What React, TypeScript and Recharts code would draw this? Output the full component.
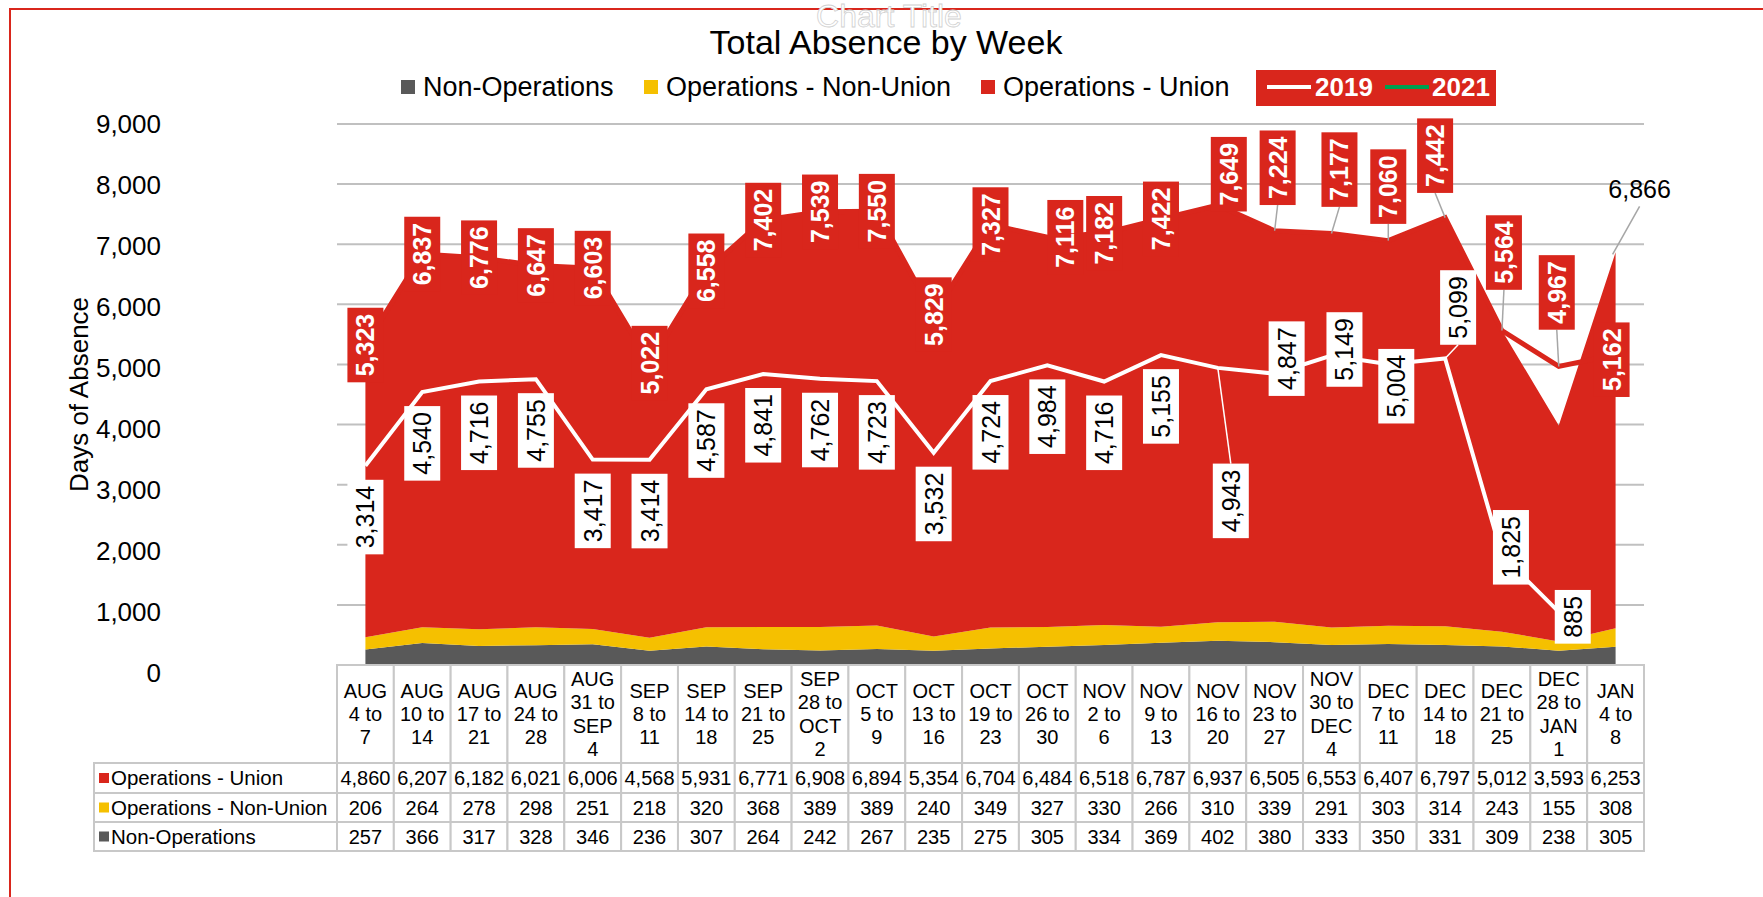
import { Area, CartesianGrid, ComposedChart, LabelList, Line, XAxis, YAxis } from "recharts";

const weeks = [
  "AUG\n4 to\n7",
  "AUG\n10 to\n14",
  "AUG\n17 to\n21",
  "AUG\n24 to\n28",
  "AUG\n31 to\nSEP\n4",
  "SEP\n8 to\n11",
  "SEP\n14 to\n18",
  "SEP\n21 to\n25",
  "SEP\n28 to\nOCT\n2",
  "OCT\n5 to\n9",
  "OCT\n13 to\n16",
  "OCT\n19 to\n23",
  "OCT\n26 to\n30",
  "NOV\n2 to\n6",
  "NOV\n9 to\n13",
  "NOV\n16 to\n20",
  "NOV\n23 to\n27",
  "NOV\n30 to\nDEC\n4",
  "DEC\n7 to\n11",
  "DEC\n14 to\n18",
  "DEC\n21 to\n25",
  "DEC\n28 to\nJAN\n1",
  "JAN\n4 to\n8",
];

const opsUnion = [4860, 6207, 6182, 6021, 6006, 4568, 5931, 6771, 6908, 6894, 5354, 6704, 6484, 6518, 6787, 6937, 6505, 6553, 6407, 6797, 5012, 3593, 6253];
const opsNonUnion = [206, 264, 278, 298, 251, 218, 320, 368, 389, 389, 240, 349, 327, 330, 266, 310, 339, 291, 303, 314, 243, 155, 308];
const nonOps = [257, 366, 317, 328, 346, 236, 307, 264, 242, 267, 235, 275, 305, 334, 369, 402, 380, 333, 350, 331, 309, 238, 305];

// red boxed labels (week totals, last two weeks differ)
const weekTags = [5323, 6837, 6776, 6647, 6603, 5022, 6558, 7402, 7539, 7550, 5829, 7327, 7116, 7182, 7422, 7649, 7224, 7177, 7060, 7442, 5564, 4967, 5162];
const absence2019 = [3314, 4540, 4716, 4755, 3417, 3414, 4587, 4841, 4762, 4723, 3532, 4724, 4984, 4716, 5155, 4943, 4847, 5149, 5004, 5099, 1825, 885, null];

const yTicks = [0, 1000, 2000, 3000, 4000, 5000, 6000, 7000, 8000, 9000];

const FONT = "'Liberation Sans', Arial, sans-serif";
const RED = "#D9261C";
const YELLOW = "#F5C000";
const GREY = "#595959";
const GREEN = "#00A050";
const CELL = "#C8C8C8";

const W = 1763;
const H = 897;
const PLOT_LEFT = 337;
const PLOT_RIGHT = 1644;
const PLOT_TOP = 124;
const PLOT_BOTTOM = 665;
const HEAD_H = 98;
const ROW_H = [30, 29, 29];
const TABLE_H = HEAD_H + ROW_H[0] + ROW_H[1] + ROW_H[2];
const BAND = (PLOT_RIGHT - PLOT_LEFT) / weeks.length;
const LABEL_COL_LEFT = 94;
const TAG_SIZE = 25;
const TAG_T = 36;

// manual label nudges (like Excel's dragged labels)
const tagNudge: Record<number, { dx: number; dy: number; lead?: boolean }> = {
  12: { dx: 18, dy: 0 },
  15: { dx: 11, dy: -31 },
  16: { dx: 3, dy: -63, lead: true },
  17: { dx: 8, dy: -64, lead: true },
  18: { dx: 0, dy: -54, lead: true },
  19: { dx: -10, dy: -62, lead: true },
  20: { dx: 2, dy: -78, lead: true },
  21: { dx: -2, dy: -74, lead: true },
  22: { dx: -4, dy: 5 },
};
const nudge2019: Record<number, { dx: number; dy: number; lead?: boolean }> = {
  15: { dx: 13, dy: 133, lead: true },
  16: { dx: 12, dy: -15 },
  17: { dx: 13, dy: -6 },
  18: { dx: 8, dy: 22 },
  19: { dx: 13, dy: -51, lead: true },
  20: { dx: 9, dy: -8 },
  21: { dx: 14, dy: 5 },
};

const fmt = (v: number) => v.toLocaleString("en-US");
const textW = (s: string, size: number) =>
  s.split("").reduce((a, c) => a + (c === "," ? 0.278 : 0.556), 0) * size;

const rows = weeks.map((week, i) => ({
  week,
  nonOps: nonOps[i],
  opsNonUnion: opsNonUnion[i],
  opsUnion: opsUnion[i],
  tag: weekTags[i],
  y2019: absence2019[i],
}));

const tableRows = [
  { name: "Operations - Union", color: RED, values: opsUnion },
  { name: "Operations - Non-Union", color: YELLOW, values: opsNonUnion },
  { name: "Non-Operations", color: GREY, values: nonOps },
];

function getXY(p: any) {
  const x = p.x ?? p.viewBox?.x;
  const y = p.y ?? p.viewBox?.y;
  return { x: Number(x), y: Number(y) };
}

function TagBox({ x, y, text, fill, color, bold, nudge, leadColor, below }: any) {
  const len = textW(text, TAG_SIZE) + 12;
  const n = nudge ?? { dx: 0, dy: below ? 14 + len / 2 : 0 };
  const cx = x + n.dx;
  const cy = y + n.dy;
  const edge = cy < y ? cy + len / 2 : cy - len / 2;
  return (
    <g>
      {n.lead && <line x1={x} y1={y} x2={cx} y2={edge} stroke={leadColor} strokeWidth={1.5} />}
      <g transform={`translate(${cx},${cy}) rotate(-90)`}>
        <rect x={-len / 2} y={-TAG_T / 2} width={len} height={TAG_T} fill={fill} />
        <text
          x={0}
          y={TAG_SIZE * 0.36}
          textAnchor="middle"
          fontSize={TAG_SIZE}
          fontFamily={FONT}
          fontWeight={bold ? "bold" : "normal"}
          fill={color}
        >
          {text}
        </text>
      </g>
    </g>
  );
}

function RedTag(p: any) {
  if (p.value == null) return null;
  const { x, y } = getXY(p);
  return (
    <TagBox x={x} y={y} text={fmt(Number(p.value))} fill={RED} color="#fff" bold nudge={tagNudge[p.index]} leadColor="#A6A6A6" />
  );
}

function WhiteTag(p: any) {
  if (p.value == null) return null;
  const { x, y } = getXY(p);
  return (
    <TagBox x={x} y={y} text={fmt(Number(p.value))} fill="#fff" color="#000" nudge={nudge2019[p.index]} leadColor="#fff" below />
  );
}

function StackTopLabel(p: any) {
  const i = p.index;
  if (i !== weeks.length - 1) return null;
  const { x, y } = getXY(p);
  const total = opsUnion[i] + opsNonUnion[i] + nonOps[i];
  return (
    <g>
      <line x1={x - 3} y1={y + 2} x2={x + 24} y2={y - 46} stroke="#A6A6A6" strokeWidth={1.5} />
      <text x={x + 24} y={y - 54} textAnchor="middle" fontSize={TAG_SIZE} fontFamily={FONT} fill="#000">
        {fmt(total)}
      </text>
    </g>
  );
}

function YTick(props: any) {
  const { x, y, payload } = props;
  // Excel's value labels sit a touch low near the base
  const drop = ((9000 - payload.value) / 9000) * 8;
  return (
    <text x={x} y={y + drop + 9} textAnchor="end" fontSize={26} fontFamily={FONT} fill="#000">
      {fmt(payload.value)}
    </text>
  );
}

function TableTick(props: any) {
  const { x, y, payload } = props;
  const i: number = payload.index;
  const left = x - BAND / 2;
  const lines = String(payload.value).split("\n");
  const mid = y + HEAD_H / 2;
  const lh = 23.3;
  let top = y + HEAD_H;
  return (
    <g fontFamily={FONT} fontSize={20} fill="#000">
      <rect x={left} y={y} width={BAND} height={HEAD_H} fill="#fff" stroke={CELL} strokeWidth={2} />
      {lines.map((l, k) => (
        <text key={k} x={x} y={mid - ((lines.length - 1) / 2) * lh + k * lh + 7} textAnchor="middle">
          {l}
        </text>
      ))}
      {tableRows.map((r, k) => {
        const t = top;
        const rh = ROW_H[k];
        top += rh;
        return (
          <g key={r.name}>
            <rect x={left} y={t} width={BAND} height={rh} fill="#fff" stroke={CELL} strokeWidth={2} />
            <text x={x} y={t + rh / 2 + 7} textAnchor="middle">
              {fmt(r.values[i])}
            </text>
            {i === 0 && (
              <g>
                <rect x={LABEL_COL_LEFT} y={t} width={left - LABEL_COL_LEFT} height={rh} fill="#fff" stroke={CELL} strokeWidth={2} />
                <rect x={LABEL_COL_LEFT + 5} y={t + rh / 2 - 5} width={10} height={10} fill={r.color} />
                <text x={LABEL_COL_LEFT + 17} y={t + rh / 2 + 7} textAnchor="start" fontSize={20.5}>
                  {r.name}
                </text>
              </g>
            )}
          </g>
        );
      })}
    </g>
  );
}

function Header() {
  const cy = 87;
  const sq = 14;
  const items = [
    { name: "Non-Operations", color: GREY, x: 401 },
    { name: "Operations - Non-Union", color: YELLOW, x: 644 },
    { name: "Operations - Union", color: RED, x: 981 },
  ];
  return (
    <svg width={W} height={130} style={{ position: "absolute", left: 0, top: 0 }} fontFamily={FONT}>
      <text x={889} y={27} textAnchor="middle" fontSize={32} fill="#fff" stroke="#d0d0d0" strokeWidth={0.8}>
        Chart Title
      </text>
      <text x={886} y={54} textAnchor="middle" fontSize={34} fill="#000">
        Total Absence by Week
      </text>
      {items.map((it) => (
        <g key={it.name}>
          <rect x={it.x} y={cy - sq / 2} width={sq} height={sq} fill={it.color} />
          <text x={it.x + sq + 8} y={cy + 9} fontSize={27} fill="#000">
            {it.name}
          </text>
        </g>
      ))}
      <rect x={1256} y={70} width={240} height={36} fill={RED} />
      <line x1={1267} y1={cy} x2={1311} y2={cy} stroke="#fff" strokeWidth={4} />
      <text x={1315} y={cy + 9} fontSize={26} fontWeight="bold" fill="#fff">
        2019
      </text>
      <line x1={1385} y1={cy} x2={1429} y2={cy} stroke={GREEN} strokeWidth={4} />
      <text x={1432} y={cy + 9} fontSize={26} fontWeight="bold" fill="#fff">
        2021
      </text>
    </svg>
  );
}

export default function App() {
  return (
    <div style={{ position: "absolute", left: 0, top: 0, width: W, height: H, background: "#fff", overflow: "hidden" }}>
      <div
        style={{
          position: "absolute",
          left: 9,
          top: 8,
          width: W,
          height: H,
          borderLeft: `2px solid ${RED}`,
          borderTop: `2px solid ${RED}`,
        }}
      />
      <ComposedChart
        width={W}
        height={H}
        data={rows}
        margin={{ top: PLOT_TOP, right: W - PLOT_RIGHT, bottom: H - PLOT_BOTTOM - TABLE_H, left: 0 }}
        style={{ position: "absolute", left: 0, top: 0 }}
      >
        <CartesianGrid horizontal vertical={false} stroke="#C0C0C0" strokeWidth={2} />
        <XAxis
          dataKey="week"
          scale="band"
          interval={0}
          height={TABLE_H}
          axisLine={false}
          tickLine={false}
          tickSize={0}
          tickMargin={0}
          tick={(p: any) => <TableTick {...p} />}
        />
        <YAxis
          domain={[0, 9000]}
          ticks={yTicks}
          width={PLOT_LEFT}
          axisLine={false}
          tickLine={false}
          tickSize={0}
          tickMargin={176}
          tick={(p: any) => <YTick {...p} />}
          label={{
            value: "Days of Absence",
            angle: -90,
            position: "insideLeft",
            offset: 79,
            style: { fontSize: 26, fill: "#000", fontFamily: FONT, textAnchor: "middle" },
          }}
        />
        <Area dataKey="nonOps" stackId="s" type="linear" fill={GREY} fillOpacity={1} stroke="none" isAnimationActive={false} />
        <Area dataKey="opsNonUnion" stackId="s" type="linear" fill={YELLOW} fillOpacity={1} stroke="none" isAnimationActive={false} />
        <Area dataKey="opsUnion" stackId="s" type="linear" fill={RED} fillOpacity={1} stroke="none" isAnimationActive={false}>
          <LabelList dataKey="opsUnion" content={(p: any) => <StackTopLabel {...p} />} />
        </Area>
        <Line dataKey="tag" type="linear" stroke={RED} strokeWidth={5} dot={false} isAnimationActive={false}>
          <LabelList dataKey="tag" content={(p: any) => <RedTag {...p} />} />
        </Line>
        <Line dataKey="y2019" type="linear" stroke="#fff" strokeWidth={4} dot={false} connectNulls={false} isAnimationActive={false}>
          <LabelList dataKey="y2019" content={(p: any) => <WhiteTag {...p} />} />
        </Line>
      </ComposedChart>
      <Header />
    </div>
  );
}
